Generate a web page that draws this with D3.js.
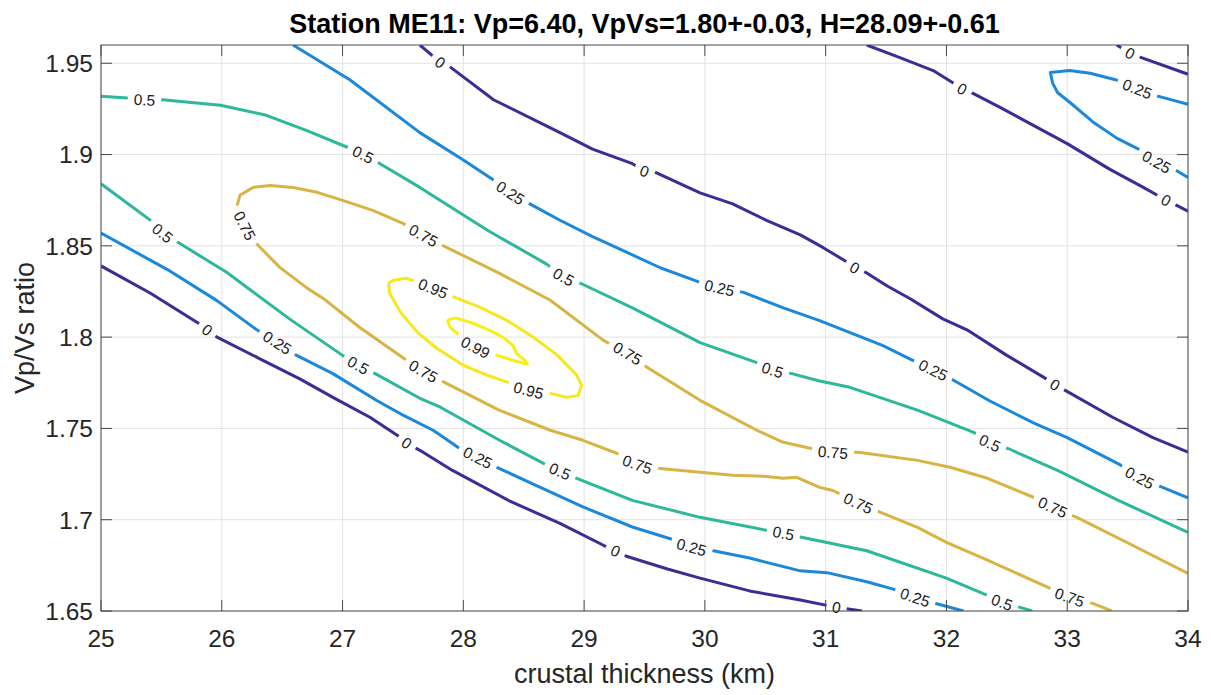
<!DOCTYPE html>
<html>
<head>
<meta charset="utf-8">
<script src="https://cdn.jsdelivr.net/npm/d3@7"></script>
<style>
  body { margin: 0; background: #fff; }
  text { font-family: "Liberation Sans", Arial, Helvetica, sans-serif; }
</style>
</head>
<body>
<div id="chart"></div>
<script>
// Axis ticks
var xTicks = [25, 26, 27, 28, 29, 30, 31, 32, 33, 34];
var yTicks = [1.65, 1.7, 1.75, 1.8, 1.85, 1.9, 1.95];

// Contour levels and their colours (parula)
var levels = [0, 0.25, 0.5, 0.75, 0.95, 0.99];
var levelColors = ["#3c2c96", "#1b88dc", "#2db79d", "#d8b444", "#f6e71f", "#f7f014"];

// Contour pieces as [crustal thickness, Vp/Vs]
var c0a = [[25.00,1.839],[25.41,1.824],[25.82,1.807],[25.88,1.804],[25.96,1.800],[26.32,1.788],[26.65,1.777],[26.92,1.767],[27.23,1.756],[27.48,1.745],[27.53,1.742],[27.64,1.738],[27.91,1.727],[28.39,1.710],[28.80,1.698],[29.16,1.686],[29.26,1.683],[29.35,1.680],[29.69,1.673],[29.96,1.668],[30.37,1.661],[30.79,1.656],[31.09,1.652],[31.30,1.650]];
var c0b = [[27.64,1.960],[27.81,1.9505],[27.89,1.948],[28.25,1.930],[28.80,1.912],[29.07,1.903],[29.40,1.895],[29.50,1.891],[29.60,1.890],[29.96,1.879],[30.23,1.873],[30.51,1.864],[30.79,1.856],[30.98,1.849],[31.18,1.841],[31.24,1.838],[31.33,1.8355],[31.51,1.828],[31.70,1.821],[31.97,1.810],[32.17,1.804],[32.50,1.790],[32.83,1.777],[32.90,1.774],[32.98,1.771],[33.38,1.756],[33.71,1.745],[34.00,1.737]];
var c0c = [[31.34,1.960],[31.62,1.953],[31.89,1.946],[32.05,1.9395],[32.13,1.936],[32.22,1.9335],[32.44,1.926],[32.72,1.916],[33.00,1.906],[33.35,1.892],[33.63,1.882],[33.82,1.875],[33.91,1.872],[34.00,1.869]];
var c0d = [[33.41,1.960],[33.52,1.9555],[33.62,1.953],[34.00,1.944]];
var c25a = [[25.00,1.857],[25.55,1.837],[25.96,1.820],[26.29,1.804],[26.46,1.797],[26.62,1.790],[26.92,1.780],[27.29,1.765],[27.48,1.758],[27.75,1.749],[27.97,1.739],[28.12,1.734],[28.30,1.728],[28.66,1.717],[28.99,1.707],[29.40,1.696],[29.74,1.689],[29.89,1.685],[30.07,1.683],[30.37,1.679],[30.79,1.672],[31.01,1.671],[31.34,1.666],[31.56,1.662],[31.74,1.6575],[31.92,1.654],[32.14,1.650]];
var c25b = [[26.59,1.960],[27.06,1.941],[27.64,1.912],[28.00,1.897],[28.25,1.886],[28.39,1.879],[28.55,1.873],[28.80,1.864],[29.07,1.855],[29.27,1.849],[29.63,1.838],[29.96,1.830],[30.12,1.827],[30.32,1.8245],[30.65,1.816],[30.95,1.809],[31.47,1.7955],[31.70,1.788],[31.89,1.782],[32.07,1.776],[32.36,1.765],[32.72,1.753],[33.00,1.745],[33.44,1.730],[33.60,1.723],[33.78,1.718],[34.00,1.712]];
var c25c = [[34.00,1.9275],[33.75,1.932],[33.58,1.936],[33.40,1.941],[33.19,1.9445],[33.02,1.946],[32.86,1.945],[32.88,1.939],[32.92,1.934],[33.05,1.927],[33.21,1.918],[33.41,1.909],[33.59,1.903],[33.74,1.896],[33.91,1.891],[34.00,1.8875]];
var c50a = [[25.00,1.932],[25.22,1.931],[25.36,1.930],[25.51,1.930],[25.99,1.927],[26.37,1.9215],[26.71,1.913],[27.04,1.904],[27.17,1.900],[27.31,1.895],[27.64,1.882],[28.20,1.8585],[28.69,1.840],[28.83,1.833],[28.97,1.8295],[29.40,1.816],[29.96,1.797],[30.43,1.786],[30.56,1.782],[30.72,1.780],[30.95,1.776],[31.20,1.7725],[31.76,1.760],[32.22,1.748],[32.36,1.742],[32.51,1.739],[32.92,1.727],[33.41,1.711],[34.00,1.693]];
var c50b = [[25.00,1.884],[25.43,1.863],[25.51,1.857],[25.65,1.8514],[26.04,1.8355],[26.56,1.810],[27.00,1.790],[27.13,1.7846],[27.27,1.780],[27.64,1.7665],[27.81,1.7616],[28.30,1.7435],[28.66,1.731],[28.80,1.7265],[28.98,1.7216],[29.40,1.7106],[29.96,1.7013],[30.51,1.6942],[30.65,1.6926],[30.80,1.6904],[31.34,1.683],[32.00,1.668],[32.34,1.6586],[32.46,1.6548],[32.61,1.652],[32.71,1.650]];
var c75 = [[34.00,1.6706],[33.54,1.686],[33.08,1.7013],[32.88,1.7068],[32.72,1.7123],[32.34,1.7227],[32.03,1.7287],[31.76,1.7325],[31.27,1.7369],[31.06,1.7369],[30.91,1.7386],[30.65,1.7424],[30.43,1.749],[29.96,1.7654],[29.52,1.7835],[29.36,1.7911],[29.16,1.7982],[28.72,1.8202],[28.30,1.8349],[27.86,1.8492],[27.67,1.8557],[27.50,1.8623],[27.25,1.8694],[27.00,1.8749],[26.79,1.8793],[26.59,1.8820],[26.40,1.8831],[26.26,1.8820],[26.15,1.8777],[26.13,1.8727],[26.19,1.861],[26.30,1.8503],[26.48,1.8382],[26.71,1.8267],[26.84,1.8212],[27.14,1.8054],[27.53,1.7873],[27.67,1.7813],[27.86,1.7747],[28.30,1.7599],[28.72,1.749],[28.99,1.7435],[29.27,1.7364],[29.44,1.7303],[29.63,1.7281],[29.96,1.726],[30.23,1.7243],[30.51,1.7237],[30.65,1.7227],[30.76,1.7232],[30.95,1.7177],[31.06,1.716],[31.27,1.709],[31.45,1.7041],[31.76,1.6958],[32.00,1.6876],[32.34,1.6778],[32.86,1.6624],[33.02,1.6575],[33.21,1.6542],[33.37,1.650]];
var c95 = [[27.38,1.8295],[27.42,1.8311],[27.53,1.8322],[27.60,1.8306],[27.75,1.8267],[27.93,1.8218],[28.14,1.8163],[28.36,1.8092],[28.58,1.7999],[28.78,1.790],[28.94,1.7791],[28.98,1.7736],[28.95,1.7681],[28.86,1.767],[28.72,1.7692],[28.54,1.7709],[28.37,1.7752],[28.20,1.7791],[28.00,1.7846],[27.78,1.7939],[27.62,1.8026],[27.48,1.8136],[27.39,1.824],[27.38,1.8295]];
var c99 = [[27.91,1.8103],[27.95,1.8103],[28.08,1.8076],[28.22,1.8037],[28.33,1.7999],[28.41,1.7955],[28.44,1.7911],[28.51,1.7873],[28.53,1.7851],[28.41,1.7873],[28.28,1.790],[28.10,1.7944],[27.97,1.801],[27.89,1.8054],[27.87,1.8092],[27.91,1.8103]];

// Where the inline labels sit on each piece
var lab0a = [[25.88,1.804],[27.53,1.742],[29.26,1.683],[31.09,1.652]];
var lab0b = [[27.81,1.9505],[29.50,1.891],[31.24,1.838],[32.90,1.774]];
var lab0c = [[32.13,1.936],[33.82,1.875]];
var lab0d = [[33.52,1.9555]];
var lab25a = [[26.46,1.797],[28.12,1.734],[29.89,1.685],[31.74,1.6575]];
var lab25b = [[28.39,1.879],[30.12,1.827],[31.89,1.782],[33.60,1.723]];
var lab25c = [[33.58,1.936],[33.74,1.896]];
var lab50a = [[25.36,1.930],[27.17,1.900],[28.83,1.833],[30.56,1.782],[32.36,1.742]];
var lab50b = [[25.51,1.857],[27.13,1.7846],[28.80,1.7265],[30.65,1.6926],[32.46,1.6548]];
var lab75 = [[32.88,1.7068],[31.06,1.7369],[29.36,1.7911],[27.67,1.8557],[26.19,1.861],[27.67,1.7813],[29.44,1.7303],[31.27,1.709],[33.02,1.6575]];
var lab95 = [[27.75,1.8267],[28.54,1.7709]];
var lab99 = [[28.10,1.7944]];

var contours = [
    { level: 0, points: c0a, labels: lab0a },
    { level: 0, points: c0b, labels: lab0b },
    { level: 0, points: c0c, labels: lab0c },
    { level: 0, points: c0d, labels: lab0d },
    { level: 0.25, points: c25a, labels: lab25a },
    { level: 0.25, points: c25b, labels: lab25b },
    { level: 0.25, points: c25c, labels: lab25c },
    { level: 0.5, points: c50a, labels: lab50a },
    { level: 0.5, points: c50b, labels: lab50b },
    { level: 0.75, points: c75, labels: lab75 },
    { level: 0.95, points: c95, labels: lab95 },
    { level: 0.99, points: c99, labels: lab99 }
];

var titleText = "Station ME11: Vp=6.40, VpVs=1.80+-0.03, H=28.09+-0.61";

// Layout
var W = 1211, H = 695;
var margin = { top: 45, right: 23, bottom: 84, left: 101 };
var width = W - margin.left - margin.right;
var height = H - margin.top - margin.bottom;

var svg = d3.select("#chart").append("svg")
    .attr("width", W)
    .attr("height", H);

var x = d3.scaleLinear().domain([25, 34]).range([0, width]);
var y = d3.scaleLinear().domain([1.65, 1.96]).range([height, 0]);

var defs = svg.append("defs");
defs.append("clipPath").attr("id", "plotClip")
    .append("rect").attr("width", width).attr("height", height);

var g = svg.append("g").attr("transform", "translate(" + margin.left + "," + margin.top + ")");

// Grid
var grid = g.append("g").attr("class", "grid");
grid.selectAll(".gx").data(xTicks).enter().append("line")
    .attr("x1", function (d) { return x(d); })
    .attr("x2", function (d) { return x(d); })
    .attr("y1", 0).attr("y2", height)
    .attr("stroke", "#e3e3e3").attr("stroke-width", 1);
grid.selectAll(".gy").data(yTicks).enter().append("line")
    .attr("y1", function (d) { return y(d); })
    .attr("y2", function (d) { return y(d); })
    .attr("x1", 0).attr("x2", width)
    .attr("stroke", "#e3e3e3").attr("stroke-width", 1);

var linesG = g.append("g").attr("clip-path", "url(#plotClip)");
var labelsG = g.append("g");

var line = d3.line()
    .x(function (d) { return x(d[0]); })
    .y(function (d) { return y(d[1]); });

// Angle of the line at a label, kept upright
function labelAngle(pts, lp) {
    var best = 0, bestD = Infinity;
    pts.forEach(function (p, i) {
        var dd = (p[0] - lp[0]) * (p[0] - lp[0]) + (p[1] - lp[1]) * (p[1] - lp[1]);
        if (dd < bestD) { bestD = dd; best = i; }
    });
    var a = pts[Math.max(best - 1, 0)], b = pts[Math.min(best + 1, pts.length - 1)];
    var ang = Math.atan2(b[1] - a[1], b[0] - a[0]) * 180 / Math.PI;
    if (ang > 90) ang -= 180;
    if (ang < -90) ang += 180;
    return ang;
}

contours.forEach(function (c, i) {
    var color = levelColors[levels.indexOf(c.level)];
    var screenPts = c.points.map(function (p) { return [x(p[0]), y(p[1])]; });

    var mask = defs.append("mask").attr("id", "mask" + i)
        .attr("maskUnits", "userSpaceOnUse")
        .attr("x", -50).attr("y", -50).attr("width", width + 100).attr("height", height + 100);
    mask.append("rect")
        .attr("x", -50).attr("y", -50).attr("width", width + 100).attr("height", height + 100)
        .attr("fill", "white");

    c.labels.forEach(function (l) {
        var lx = x(l[0]), ly = y(l[1]);
        var ang = labelAngle(screenPts, [lx, ly]);
        var t = labelsG.append("text")
            .attr("transform", "translate(" + lx + "," + ly + ") rotate(" + ang + ")")
            .attr("text-anchor", "middle")
            .attr("dy", "0.36em")
            .attr("font-size", "15.5px")
            .attr("fill", "#1a1a1a")
            .text(String(c.level));
        var tw = t.node().getComputedTextLength();
        mask.append("rect")
            .attr("x", -tw / 2 - 6).attr("y", -9)
            .attr("width", tw + 12).attr("height", 18)
            .attr("transform", "translate(" + lx + "," + ly + ") rotate(" + ang + ")")
            .attr("fill", "black");
    });

    linesG.append("g").attr("mask", "url(#mask" + i + ")")
        .append("path")
        .datum(c.points)
        .attr("d", line)
        .attr("fill", "none")
        .attr("stroke", color)
        .attr("stroke-width", 3)
        .attr("stroke-linejoin", "round")
        .attr("stroke-linecap", "butt");
});

// Axes box and inward ticks on all four sides
var axisColor = "#4a4a4a";
var tickLen = 11;
var axes = g.append("g");
axes.append("rect")
    .attr("width", width).attr("height", height)
    .attr("fill", "none").attr("stroke", axisColor).attr("stroke-width", 1);
xTicks.forEach(function (t) {
    axes.append("line").attr("x1", x(t)).attr("x2", x(t)).attr("y1", height).attr("y2", height - tickLen)
        .attr("stroke", axisColor);
    axes.append("line").attr("x1", x(t)).attr("x2", x(t)).attr("y1", 0).attr("y2", tickLen)
        .attr("stroke", axisColor);
});
yTicks.forEach(function (t) {
    axes.append("line").attr("x1", 0).attr("x2", tickLen).attr("y1", y(t)).attr("y2", y(t))
        .attr("stroke", axisColor);
    axes.append("line").attr("x1", width).attr("x2", width - tickLen).attr("y1", y(t)).attr("y2", y(t))
        .attr("stroke", axisColor);
});

// Tick labels
var xFmt = d3.format("d");
axes.selectAll(".xl").data(xTicks).enter().append("text")
    .attr("x", function (d) { return x(d); })
    .attr("y", height + 36)
    .attr("text-anchor", "middle")
    .attr("font-size", "24.5px")
    .attr("fill", "#262626")
    .text(function (d) { return xFmt(d); });
axes.selectAll(".yl").data(yTicks).enter().append("text")
    .attr("x", -8)
    .attr("y", function (d) { return y(d); })
    .attr("dy", "0.36em")
    .attr("text-anchor", "end")
    .attr("font-size", "24.5px")
    .attr("fill", "#262626")
    .text(function (d) { return String(d); });

// Axis titles
svg.append("text")
    .attr("x", margin.left + width / 2)
    .attr("y", 683)
    .attr("text-anchor", "middle")
    .attr("font-size", "27px")
    .attr("fill", "#262626")
    .text("crustal thickness (km)");
svg.append("text")
    .attr("transform", "translate(34," + (margin.top + height / 2) + ") rotate(-90)")
    .attr("text-anchor", "middle")
    .attr("font-size", "27px")
    .attr("fill", "#262626")
    .text("Vp/Vs ratio");

// Title
svg.append("text")
    .attr("x", margin.left + width / 2)
    .attr("y", 33)
    .attr("text-anchor", "middle")
    .attr("font-size", "27px")
    .attr("font-weight", "bold")
    .attr("fill", "#000")
    .text(titleText);
</script>
</body>
</html>
